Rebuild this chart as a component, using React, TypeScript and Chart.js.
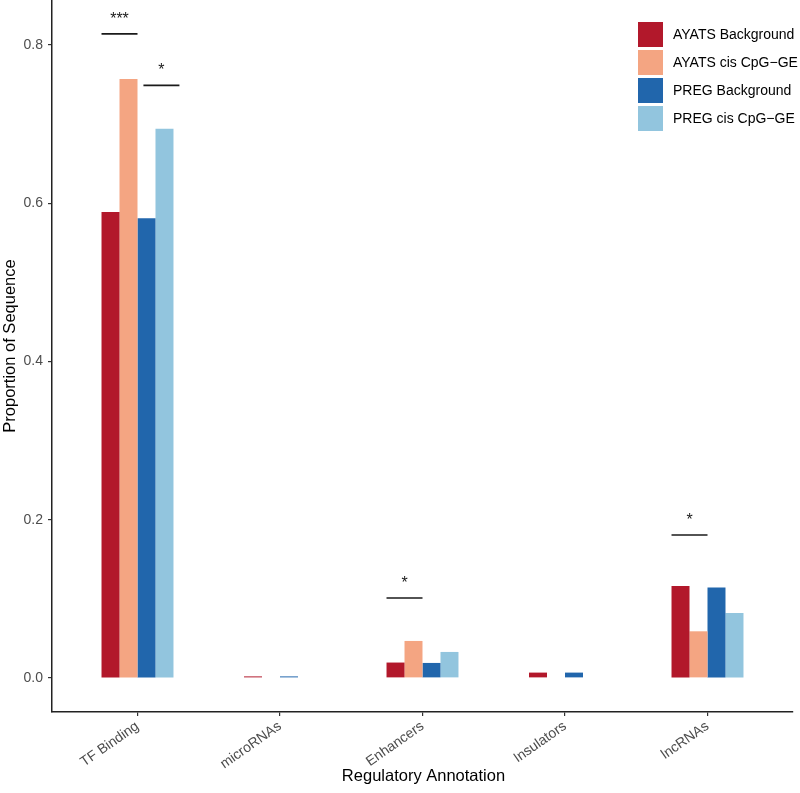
import React, { useEffect, useRef } from "react";
import { Chart, registerables } from "chart.js";

Chart.register(...registerables);

const FONT = "'Liberation Sans', Arial, Helvetica, sans-serif";

const categories = ["TF Binding", "microRNAs", "Enhancers", "Insulators", "lncRNAs"];
const seriesNames = ["AYATS Background", "AYATS cis CpG\u2212GE", "PREG Background", "PREG cis CpG\u2212GE"];
const seriesColors = ["#B2182B", "#F4A582", "#2166AC", "#92C5DE"];

const ayatsBackground = [0.589, 0.002, 0.0195, 0.0068, 0.1163];
const ayatsCis = [0.757, 0, 0.0468, 0, 0.059];
const pregBackground = [0.581, 0.002, 0.019, 0.0068, 0.1143];
const pregCis = [0.694, 0, 0.0329, 0, 0.0821];

const yTicks = [0, 0.2, 0.4, 0.6, 0.8];
const yMin = -0.043;
const yMax = 0.8556;

// significance brackets: category index, start/end in bar slots from group's left edge, level, label
const sigCategory = [0, 0, 2, 4];
const sigStart = [0, 2.33, 0, 0];
const sigEnd = [2, 4.33, 2, 2];
const sigLevel = [0.814, 0.749, 0.101, 0.1807];
const sigLabel = ["***", "*", "*", "*"];

const xTitle = "Regulatory Annotation";
const yTitle = "Proportion of Sequence";

const CAT_PCT = 0.505;

const sigPlugin = {
  id: "sigPlugin",
  afterDatasetsDraw(chart: any) {
    const { ctx } = chart;
    const xs = chart.scales.x;
    const ys = chart.scales.y;
    const unit = xs.getPixelForValue(1) - xs.getPixelForValue(0);
    const slot = (unit * CAT_PCT) / seriesNames.length;
    ctx.save();
    for (let i = 0; i < sigCategory.length; i++) {
      const c = xs.getPixelForValue(sigCategory[i]);
      const left = c - (unit * CAT_PCT) / 2;
      const x1 = left + sigStart[i] * slot;
      const x2 = left + sigEnd[i] * slot;
      const y = ys.getPixelForValue(sigLevel[i]);
      ctx.strokeStyle = "#1a1a1a";
      ctx.lineWidth = 1.6;
      ctx.beginPath();
      ctx.moveTo(x1, y);
      ctx.lineTo(x2, y);
      ctx.stroke();
      ctx.fillStyle = "#1a1a1a";
      ctx.font = `16px ${FONT}`;
      ctx.textAlign = "center";
      ctx.textBaseline = "alphabetic";
      ctx.fillText(sigLabel[i], (x1 + x2) / 2, y - 10);
    }
    ctx.restore();
  },
};

const legendPlugin = {
  id: "customLegend",
  afterDraw(chart: any) {
    const { ctx } = chart;
    ctx.save();
    const sx = 638;
    const sy = 22;
    const size = 25;
    const pitch = 28;
    for (let i = 0; i < seriesNames.length; i++) {
      const top = sy + i * pitch;
      ctx.fillStyle = seriesColors[i];
      ctx.fillRect(sx, top, size, size);
      ctx.fillStyle = "#000";
      ctx.font = `14px ${FONT}`;
      ctx.textAlign = "left";
      ctx.textBaseline = "middle";
      ctx.fillText(seriesNames[i], 673, top + size / 2 + 1);
    }
    ctx.restore();
  },
};

const titlePlugin = {
  id: "axisTitles",
  afterDraw(chart: any) {
    const { ctx } = chart;
    const xs = chart.scales.x;
    ctx.save();
    ctx.fillStyle = "#000";
    ctx.font = `16.5px ${FONT}`;
    ctx.textAlign = "center";
    ctx.textBaseline = "middle";
    ctx.fillText(xTitle, (xs.left + xs.right) / 2 + 1, 776);
    ctx.translate(10, 346);
    ctx.rotate(-Math.PI / 2);
    ctx.fillText(yTitle, 0, 0);
    ctx.restore();
  },
};

export default function App() {
  const ref = useRef<HTMLCanvasElement | null>(null);
  useEffect(() => {
    if (!ref.current) return;
    const allSeries = [ayatsBackground, ayatsCis, pregBackground, pregCis];
    const chart = new Chart(ref.current, {
      type: "bar",
      data: {
        datasets: allSeries.map((vals, si) => ({
          label: seriesNames[si],
          data: vals.map((v, i) => ({ x: i, y: v })),
          backgroundColor: seriesColors[si],
          borderWidth: 0,
          categoryPercentage: CAT_PCT,
          barPercentage: 1,
        })),
      },
      options: {
        responsive: false,
        animation: false,
        layout: { padding: { top: 1, right: 7, left: 0, bottom: 0 } },
        plugins: { legend: { display: false }, tooltip: { enabled: false } },
        scales: {
          x: {
            type: "linear",
            min: -0.6,
            max: 4.6,
            offset: false,
            afterBuildTicks: (s: any) => {
              s.ticks = categories.map((_, i) => ({ value: i }));
            },
            afterFit: (s: any) => {
              s.height = 81;
              s.paddingLeft = 0;
              s.paddingRight = 0;
            },
            ticks: {
              autoSkip: false,
              maxRotation: 35,
              minRotation: 35,
              color: "#4D4D4D",
              font: { size: 14, family: FONT },
              padding: 2,
              callback: (v: any) => categories[v] ?? "",
            },
            grid: {
              display: true,
              drawOnChartArea: false,
              drawTicks: true,
              tickLength: 4,
              color: "#333",
              lineWidth: 1.2,
              offset: false,
            },
            border: { display: true, color: "#222", width: 1.5 },
          },
          y: {
            type: "linear",
            min: yMin,
            max: yMax,
            afterBuildTicks: (s: any) => {
              s.ticks = yTicks.map((v) => ({ value: v }));
            },
            afterFit: (s: any) => {
              s.width = 52;
              s.paddingTop = 0;
              s.paddingBottom = 0;
            },
            ticks: {
              color: "#4D4D4D",
              font: { size: 14, family: FONT },
              padding: 5,
              callback: (v: any) => Number(v).toFixed(1),
            },
            grid: {
              display: true,
              drawOnChartArea: false,
              drawTicks: true,
              tickLength: 4,
              color: "#333",
              lineWidth: 1.2,
            },
            border: { display: true, color: "#222", width: 1.5 },
          },
        },
      } as any,
      plugins: [sigPlugin, legendPlugin, titlePlugin],
    });
    return () => chart.destroy();
  }, []);
  return (
    <div style={{ position: "fixed", left: 0, top: 0, width: 800, height: 793, background: "#fff" }}>
      <canvas ref={ref} width={800} height={793} style={{ display: "block" }} />
    </div>
  );
}
